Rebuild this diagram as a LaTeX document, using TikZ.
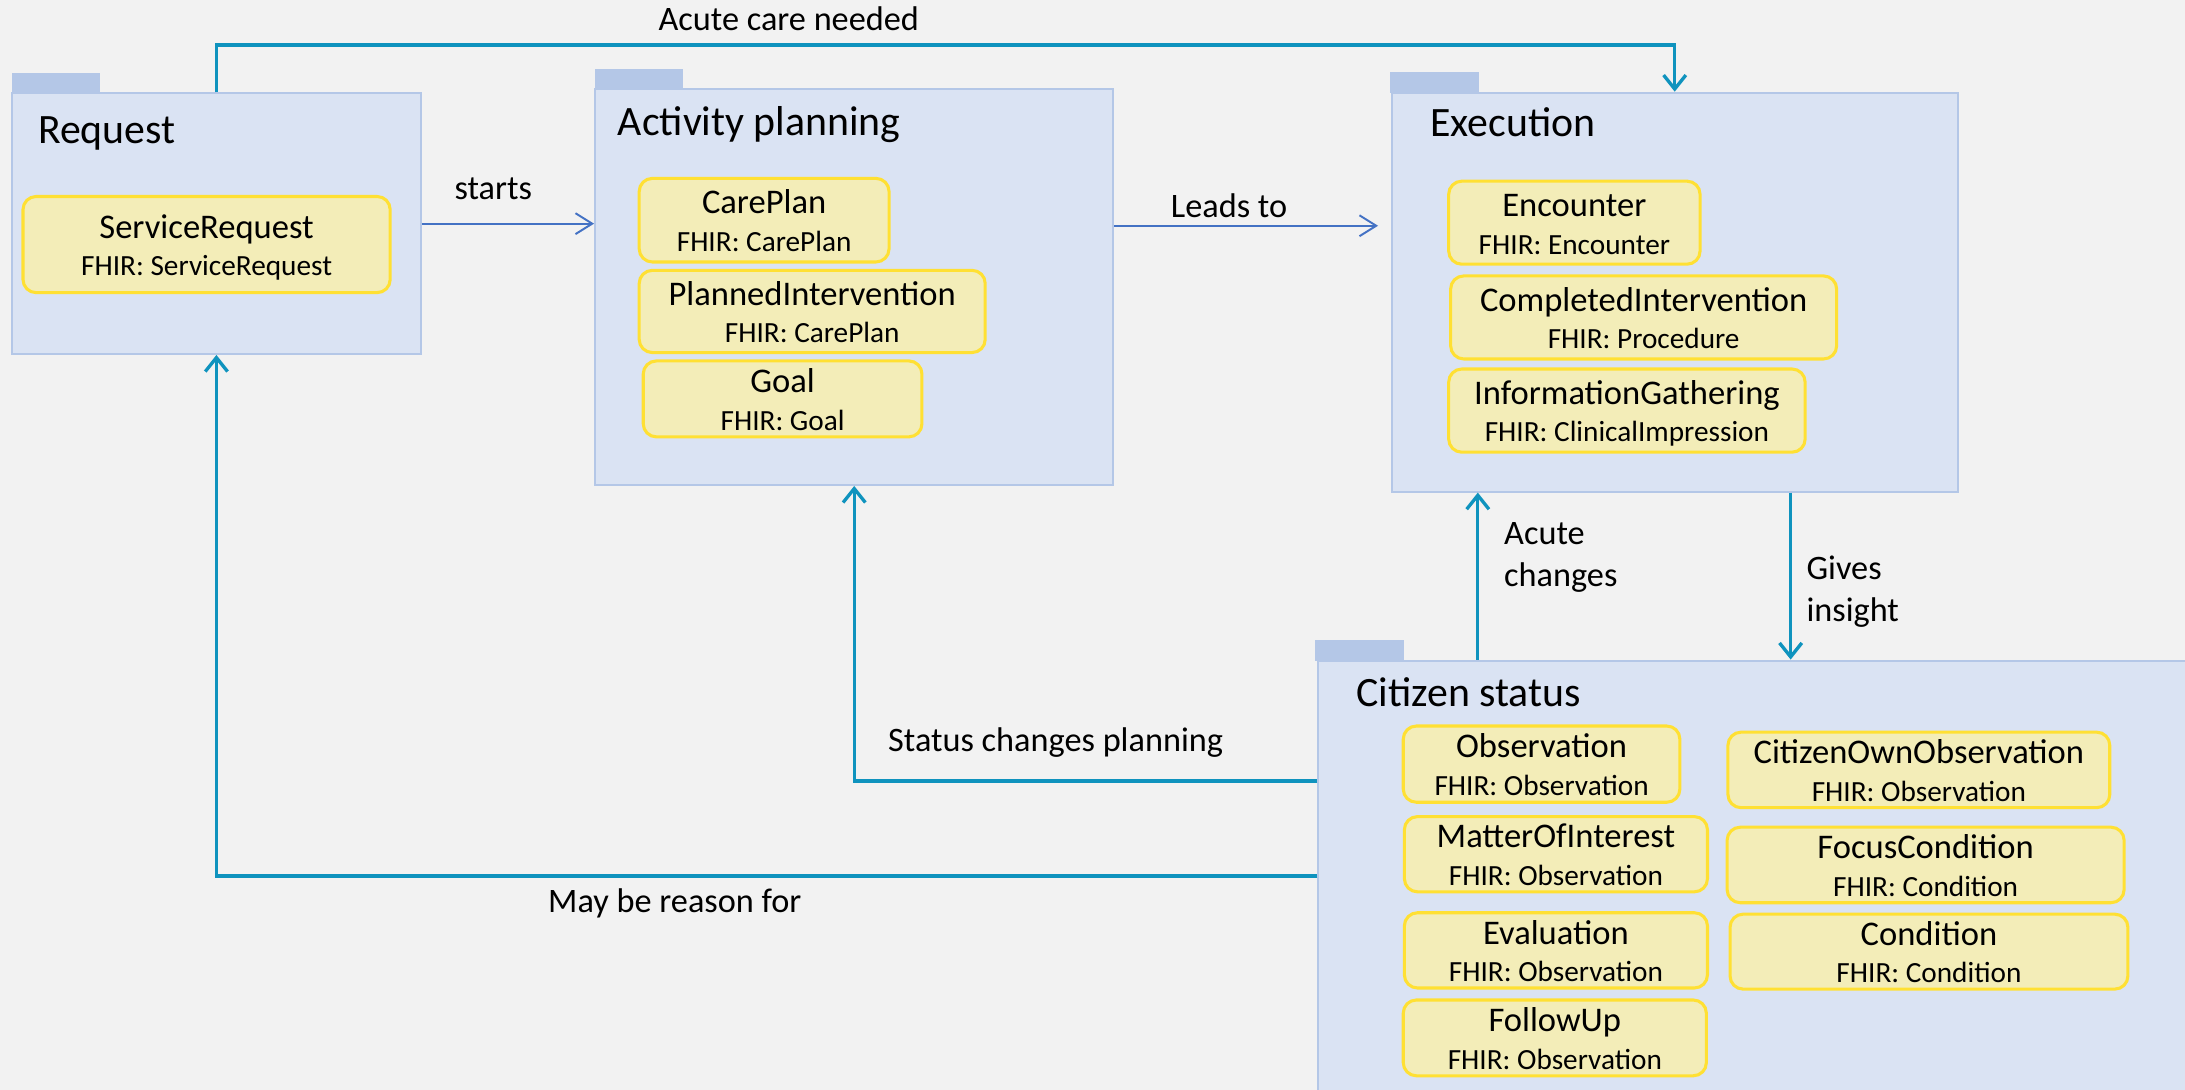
\documentclass[tikz,border=0pt]{standalone}
\usepackage{fontspec}
\setmainfont{Carlito}
\usetikzlibrary{arrows.meta,fit}
\definecolor{bgc}{HTML}{F2F2F2}
\definecolor{pkgfill}{HTML}{DAE3F3}
\definecolor{pkgline}{HTML}{B4C7E7}
\definecolor{tabc}{HTML}{B4C7E7}
\definecolor{yfill}{HTML}{F3EDB8}
\definecolor{yline}{HTML}{FFE033}
\definecolor{tealc}{HTML}{0F93BE}
\definecolor{bluec}{HTML}{4472C4}
% #1 name, #2 #3 corners, #4 title, #5 FHIR line
\newcommand\ybx[5]{%
  \node[ybox, fit={#2 #3}] (#1) {};
  \node[ytext, anchor=base, yshift=-11.25pt] (#1t) at (#1.center) {#4\\{\fontsize{10.5}{13.5}\selectfont #5}};}
\begin{document}
\begin{tikzpicture}[x=0.5pt,y=-0.5pt,
  pkg/.style={draw=pkgline, fill=pkgfill, line width=0.7pt, inner sep=0pt, rectangle},
  tabbox/.style={fill=tabc, inner sep=0pt, rectangle},
  ybox/.style={draw=yline, fill=yfill, line width=1.1pt, rounded corners=4.7pt, inner sep=0pt},
  ytext/.style={inner sep=0pt, align=center, font=\fontsize{12.4}{13.5}\selectfont},
  ttl/.style={font=\fontsize{15}{18}\selectfont, anchor=base west, inner sep=0pt},
  lbl/.style={font=\fontsize{12.3}{15}\selectfont, inner sep=0pt},
  tl/.style={draw=tealc, line width=1.2pt, -{Straight Barb[length=5pt,width=8pt]}},
  bl/.style={draw=bluec, line width=0.7pt, -{Straight Barb[length=6pt,width=7.5pt]}}]
\useasboundingbox (0,0) rectangle (1568,782);
\fill[bgc] (0,0) rectangle (1568,782);
\clip (0,0) rectangle (1568,782);

% package tabs
\node[tabbox, fit={(8.6,52.5) (72,67)}] (requestTab) {};
\node[tabbox, fit={(427,49.7) (490,64)}] (activityTab) {};
\node[tabbox, fit={(997.5,51.7) (1061,66.5)}] (executionTab) {};
\node[tabbox, fit={(944,459) (1007.6,474)}] (citizenTab) {};

% package bodies
\node[pkg, fit={(8.6,67) (302,254)}] (request) {};
\node[pkg, fit={(427,64) (799,348)}] (activity) {};
\node[pkg, fit={(998.6,66.5) (1405,352.8)}] (execution) {};
\node[pkg, fit={(946,474) (1590,800)}] (citizen) {};

% titles
\node[ttl] (requestT) at (27,103) {Request};
\node[ttl] (activityT) at (443,97) {Activity planning};
\node[ttl] (executionT) at (1026,98) {Execution};
\node[ttl] (citizenT) at (973,507) {Citizen status};

% request content
\ybx{sr}{(16.5,141)}{(280,210)}{ServiceRequest}{FHIR: ServiceRequest}

% activity content
\ybx{cp}{(458.7,128)}{(638,188)}{CarePlan}{FHIR: CarePlan}
\ybx{pi}{(458.7,194)}{(707,253)}{PlannedIntervention}{FHIR: CarePlan}
\ybx{goal}{(461.6,259)}{(661.6,313.5)}{Goal}{FHIR: Goal}

% execution content
\ybx{enc}{(1039.6,130)}{(1220,189.6)}{Encounter}{FHIR: Encounter}
\ybx{ci}{(1041,198)}{(1318,257.6)}{CompletedIntervention}{FHIR: Procedure}
\ybx{ig}{(1039.6,264.8)}{(1295.4,324.5)}{InformationGathering}{FHIR: ClinicalImpression}

% citizen content
\ybx{obs}{(1007,521)}{(1205.5,575.7)}{Observation}{FHIR: Observation}
\ybx{moi}{(1007.8,586)}{(1225.3,640)}{MatterOfInterest}{FHIR: Observation}
\ybx{eva}{(1007.8,655)}{(1225.3,709)}{Evaluation}{FHIR: Observation}
\ybx{fol}{(1007,717.6)}{(1224.5,772)}{FollowUp}{FHIR: Observation}
\ybx{coo}{(1240,525.4)}{(1514,579.6)}{CitizenOwnObservation}{FHIR: Observation}
\ybx{foc}{(1239.4,593.6)}{(1524.3,647.8)}{FocusCondition}{FHIR: Condition}
\ybx{con}{(1241.5,656)}{(1527,709.8)}{Condition}{FHIR: Condition}

% connector helper coordinates
\coordinate (topY) at (0,32.3);
\coordinate (mayY) at (0,628.6);
\coordinate (statY) at (0,560.5);
\coordinate (achX) at (1060.5,0);
\coordinate (givX) at (1285,0);
\coordinate (leadY) at (0,162);

% connectors
\draw[tl] (request.north) -- (request.north |- topY) -| (execution.north);
\draw[tl] (citizen.west |- mayY) -| (request.south);
\draw[tl] (citizen.west |- statY) -| (activity.south);
\draw[tl] (citizen.north -| achX) -- (execution.south -| achX);
\draw[tl] (execution.south -| givX) -- (citizen.north -| givX);
\draw[bl] (request.east) -- (request.east -| activity.west);
\draw[bl, shorten >=4.5pt] (activity.east |- leadY) -- (execution.west |- leadY);

% labels
\node[lbl, anchor=base] (lStarts) at (354,143.5) {starts};
\node[lbl, anchor=base] (lLeads) at (882,156) {Leads to};
\node[lbl, anchor=base] (lAcute) at (566,22) {Acute care needed};
\node[lbl, anchor=base west] (lStatus) at (637,539) {Status changes planning};
\node[lbl, anchor=base west] (lMay) at (393,654.5) {May be reason for};
\node[lbl, anchor=base west, align=left] (lAch) at (1079,421) {Acute\\changes};
\node[lbl, anchor=base west, align=left] (lGiv) at (1296,446) {Gives\\insight};
\end{tikzpicture}
\end{document}
